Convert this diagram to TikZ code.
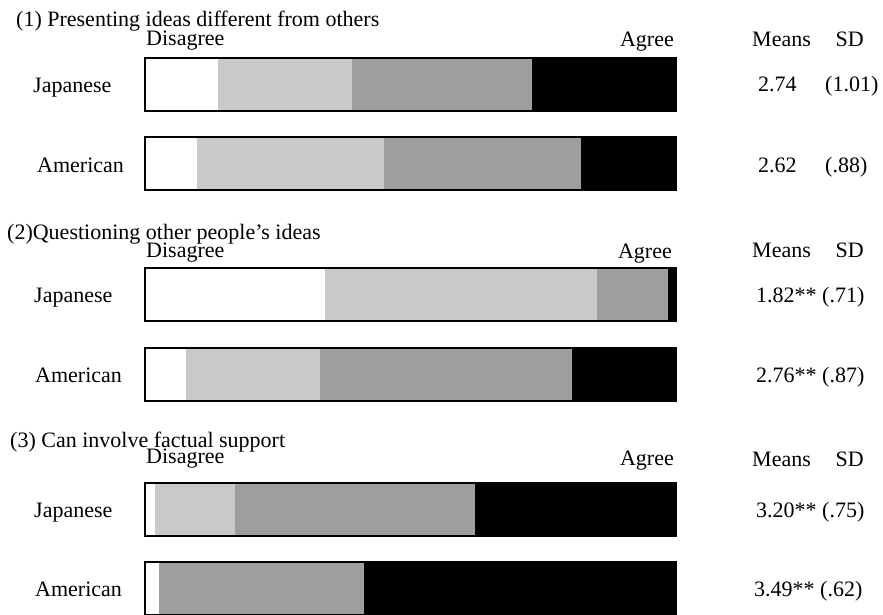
\documentclass[tikz,border=0pt]{standalone}
\usepackage{fontspec}
\setmainfont{Liberation Serif}
\definecolor{lightg}{gray}{0.79}
\definecolor{midg}{gray}{0.62}
\newcommand\stackbar[4]{%
  \fill[white] (145,#1) rectangle (#2,#1+53);
  \fill[lightg] (#2,#1) rectangle (#3,#1+53);
  \fill[midg] (#3,#1) rectangle (#4,#1+53);
  \fill[black] (#4,#1) rectangle (676,#1+53);
  \draw[barline] (145,#1) rectangle (676,#1+53);
}
\tikzset{
  lbl/.style={anchor=base west, inner sep=0pt, font=\fontsize{22}{24}\selectfont},
  lble/.style={lbl, anchor=base east},
  barline/.style={line width=1.1pt, draw=black}
}
\begin{document}
\begin{tikzpicture}[x=1pt,y=-1pt]
\useasboundingbox (0,0) rectangle (883,614);

% Section 1
\node[lbl] (t1) at (16,26) {(1) Presenting ideas different from others};
\node[lbl] (d1) at (146,45) {Disagree};
\node[lble] (a1) at (674,46) {Agree};
\node[lbl] (m1) at (752,46) {Means};
\node[lble] (s1) at (864,46) {SD};
\node[lbl] (j1) at (33,92) {Japanese};
\node[lbl] (am1) at (37,172) {American};
\node[lbl] (v1) at (758,91) {2.74};
\node[lbl] (e1) at (825,91) {(1.01)};
\node[lbl] (v2) at (758,172) {2.62};
\node[lbl] (e2) at (825,172) {(.88)};
\stackbar{58}{218}{352}{532}
\stackbar{137}{197}{384}{581}

% Section 2
\node[lbl] (t2) at (7,239) {(2)Questioning other people's ideas};
\node[lbl] (d2) at (146,257) {Disagree};
\node[lble] (a2) at (672,258) {Agree};
\node[lbl] (m2) at (752,257) {Means};
\node[lble] (s2) at (864,257) {SD};
\node[lbl] (j2) at (34,302) {Japanese};
\node[lbl] (am2) at (35,382) {American};
\node[lbl] (v3) at (756,302) {1.82** (.71)};
\node[lbl] (v4) at (756,382) {2.76** (.87)};
\stackbar{268}{325}{597}{668}
\stackbar{348}{186}{320}{572}

% Section 3
\node[lbl] (t3) at (10,447) {(3) Can involve factual support};
\node[lbl] (d3) at (146,463) {Disagree};
\node[lble] (a3) at (674,465) {Agree};
\node[lbl] (m3) at (752,466) {Means};
\node[lble] (s3) at (864,466) {SD};
\node[lbl] (j3) at (34,517) {Japanese};
\node[lbl] (am3) at (35,596) {American};
\node[lbl] (v5) at (756,517) {3.20** (.75)};
\node[lbl] (v6) at (754,596) {3.49** (.62)};
\stackbar{483}{155}{235}{475}
\stackbar{562}{159}{159}{364}
\end{tikzpicture}
\end{document}
